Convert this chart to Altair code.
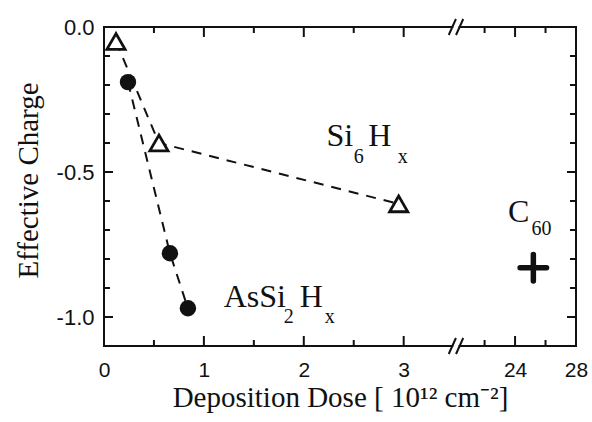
import altair as alt
import pandas as pd

# ---------------- data ----------------
si6_dose = [0.12, 0.55, 2.95]
si6_charge = [-0.05, -0.40, -0.61]

as_dose = [0.24, 0.66, 0.84]
as_charge = [-0.19, -0.78, -0.97]

c60_dose = [25.2]
c60_charge = [-0.83]

x_major = [0, 1, 2, 3, 24, 28]
x_minor = [0.5, 1.5, 2.5, 22, 26]
y_major = [0.0, -0.5, -1.0]
y_minor = [-0.1, -0.2, -0.3, -0.4, -0.6, -0.7, -0.8, -0.9]

# ---------------- broken x axis mapping ----------------
SEG1_END = 3.5
SEG2_START = 22.0
SEG2_POS = 3.81
SEG2_SCALE = 0.1525


def pos(x):
    return x if x <= SEG1_END else SEG2_POS + (x - SEG2_START) * SEG2_SCALE


XMAX = pos(28)
YMIN, YMAX = -1.1, 0.0
BREAK_A, BREAK_B = 3.487, 3.56

W, H = 472, 319
TX_MAJ, TX_MIN = 10 / H * (YMAX - YMIN), 6 / H * (YMAX - YMIN)
TY_MAJ, TY_MIN = 9 / W * XMAX, 6 / W * XMAX

SERIF = "Liberation Serif"
SANS = "Liberation Sans"
INK = "#111111"

label_expr = (
    f"datum.value <= {SEG1_END} ? format(datum.value, 'd') : "
    f"format(round({SEG2_START} + (datum.value - {SEG2_POS}) / {SEG2_SCALE}), 'd')"
)

xscale = alt.Scale(domain=[0, XMAX], nice=False, zero=False)
yscale = alt.Scale(domain=[YMIN, YMAX], nice=False, zero=False)

xaxis = alt.Axis(
    values=[pos(v) for v in x_major],
    labelExpr=label_expr,
    ticks=False, tickSize=0, domain=False, grid=False, labelFlush=False,
    labelFont=SANS, labelFontSize=21, labelColor=INK, labelPadding=13,
    title="Deposition Dose [ 10¹² cm⁻²]",
    titleFont=SERIF, titleFontSize=29, titleFontWeight="normal", titleColor=INK,
    titleX=W / 2, titleY=60, titleBaseline="alphabetic", titleAlign="center",
)
yaxis = alt.Axis(
    values=y_major,
    labelExpr="(datum.value < 0 ? '-' : '') + format(abs(datum.value), '.1f')",
    ticks=False, tickSize=0, domain=False, grid=False, labelFlush=False,
    labelFont=SANS, labelFontSize=22, labelColor=INK, labelPadding=10,
    title="Effective Charge",
    titleFont=SERIF, titleFontSize=29, titleFontWeight="normal", titleColor=INK,
    titleX=-67, titleY=153, titleBaseline="alphabetic", titleAlign="center", titleAngle=-90,
)


def X(field):
    return alt.X(f"{field}:Q", scale=xscale, axis=xaxis)


def Y(field):
    return alt.Y(f"{field}:Q", scale=yscale, axis=yaxis)


# ---------------- tables ----------------
si6 = pd.DataFrame({"p": [pos(v) for v in si6_dose], "c": si6_charge})
asi = pd.DataFrame({"p": [pos(v) for v in as_dose], "c": as_charge})
c60 = pd.DataFrame({"p": [pos(v) for v in c60_dose], "c": c60_charge})

xt = pd.DataFrame({"p": [pos(v) for v in x_major + x_minor],
                   "len": [TX_MAJ] * len(x_major) + [TX_MIN] * len(x_minor)})
xt_bottom = xt.assign(y0=YMIN, y1=YMIN + xt["len"])
xt_top = xt.assign(y0=YMAX, y1=YMAX - xt["len"])

yt = pd.DataFrame({"v": y_major + y_minor,
                   "len": [TY_MAJ] * len(y_major) + [TY_MIN] * len(y_minor)})
yt_left = yt.assign(x0=0.0, x1=yt["len"])
yt_right = yt.assign(x0=XMAX, x1=XMAX - yt["len"])

frame = pd.DataFrame({
    "x0": [0, XMAX, 0, BREAK_B, 0, BREAK_B],
    "x1": [0, XMAX, BREAK_A, XMAX, BREAK_A, XMAX],
    "y0": [YMIN, YMIN, YMAX, YMAX, YMIN, YMIN],
    "y1": [YMAX, YMAX, YMAX, YMAX, YMIN, YMIN],
})

sdx, sdy = 3.6 / W * XMAX, 8 / H * (YMAX - YMIN)
slashes = pd.DataFrame({
    "x0": [BREAK_A - sdx, BREAK_B - sdx, BREAK_A - sdx, BREAK_B - sdx],
    "x1": [BREAK_A + sdx, BREAK_B + sdx, BREAK_A + sdx, BREAK_B + sdx],
    "y0": [YMAX - sdy, YMAX - sdy, YMIN - sdy, YMIN - sdy],
    "y1": [YMAX + sdy, YMAX + sdy, YMIN + sdy, YMIN + sdy],
})

# label pieces (centre of each piece, baseline)
main_text = pd.DataFrame({
    "t": ["Si", "H", "AsSi", "H", "C"],
    "p": [2.36, 2.76, 1.51, 2.075, 4.15],
    "c": [-0.41, -0.41, -0.966, -0.966, -0.672],
})
sub_text = pd.DataFrame({
    "t": ["6", "x", "2", "x", "60"],
    "p": [2.55, 2.99, 1.85, 2.26, 4.38],
    "c": [-0.469, -0.469, -1.021, -1.021, -0.717],
})

# ---------------- layers ----------------
frame_layer = alt.Chart(frame).mark_rule(color=INK, strokeWidth=2, strokeCap="square").encode(
    x=X("x0"), x2="x1", y=Y("y0"), y2="y1")
slash_layer = alt.Chart(slashes).mark_rule(color=INK, strokeWidth=2).encode(
    x=X("x0"), x2="x1", y=Y("y0"), y2="y1")
xb_layer = alt.Chart(xt_bottom).mark_rule(color=INK, strokeWidth=2).encode(
    x=X("p"), y=Y("y0"), y2="y1")
xtop_layer = alt.Chart(xt_top).mark_rule(color=INK, strokeWidth=2).encode(
    x=X("p"), y=Y("y0"), y2="y1")
yl_layer = alt.Chart(yt_left).mark_rule(color=INK, strokeWidth=2).encode(
    y=Y("v"), x=X("x0"), x2="x1")
yr_layer = alt.Chart(yt_right).mark_rule(color=INK, strokeWidth=2).encode(
    y=Y("v"), x=X("x0"), x2="x1")

dash = [10, 8]
si6_line = alt.Chart(si6).mark_line(color=INK, strokeWidth=2, strokeDash=dash).encode(
    x=X("p"), y=Y("c"))
as_line = alt.Chart(asi).mark_line(color=INK, strokeWidth=2, strokeDash=dash).encode(
    x=X("p"), y=Y("c"))

si6_pts = alt.Chart(si6).mark_point(
    shape="triangle-up", size=330, filled=True, fill="white", stroke=INK,
    strokeWidth=2.8, opacity=1).encode(x=X("p"), y=Y("c"))
as_pts = alt.Chart(asi).mark_point(
    shape="circle", size=270, filled=True, color=INK, opacity=1).encode(x=X("p"), y=Y("c"))
c60_pts = alt.Chart(c60).mark_point(
    shape="M-1,0H1M0,-1V1", size=700, filled=False, stroke=INK, strokeWidth=5.5,
    strokeCap="round", opacity=1).encode(x=X("p"), y=Y("c"))

main_layer = alt.Chart(main_text).mark_text(
    font=SERIF, fontSize=32, align="center", baseline="alphabetic", color=INK).encode(
    x=X("p"), y=Y("c"), text="t:N")
sub_layer = alt.Chart(sub_text).mark_text(
    font=SERIF, fontSize=20, align="center", baseline="alphabetic", color=INK).encode(
    x=X("p"), y=Y("c"), text="t:N")

chart = alt.layer(
    si6_line, as_line,
    frame_layer, slash_layer, xb_layer, xtop_layer, yl_layer, yr_layer,
    si6_pts, as_pts, c60_pts, main_layer, sub_layer,
).properties(
    width=W, height=H,
    autosize=alt.AutoSizeParams(type="none"),
    padding={"left": 104, "top": 27, "right": 16, "bottom": 76},
    background="white",
).configure_view(stroke=None)

chart.save("out.html", embed_options={"renderer": "svg", "actions": False})
